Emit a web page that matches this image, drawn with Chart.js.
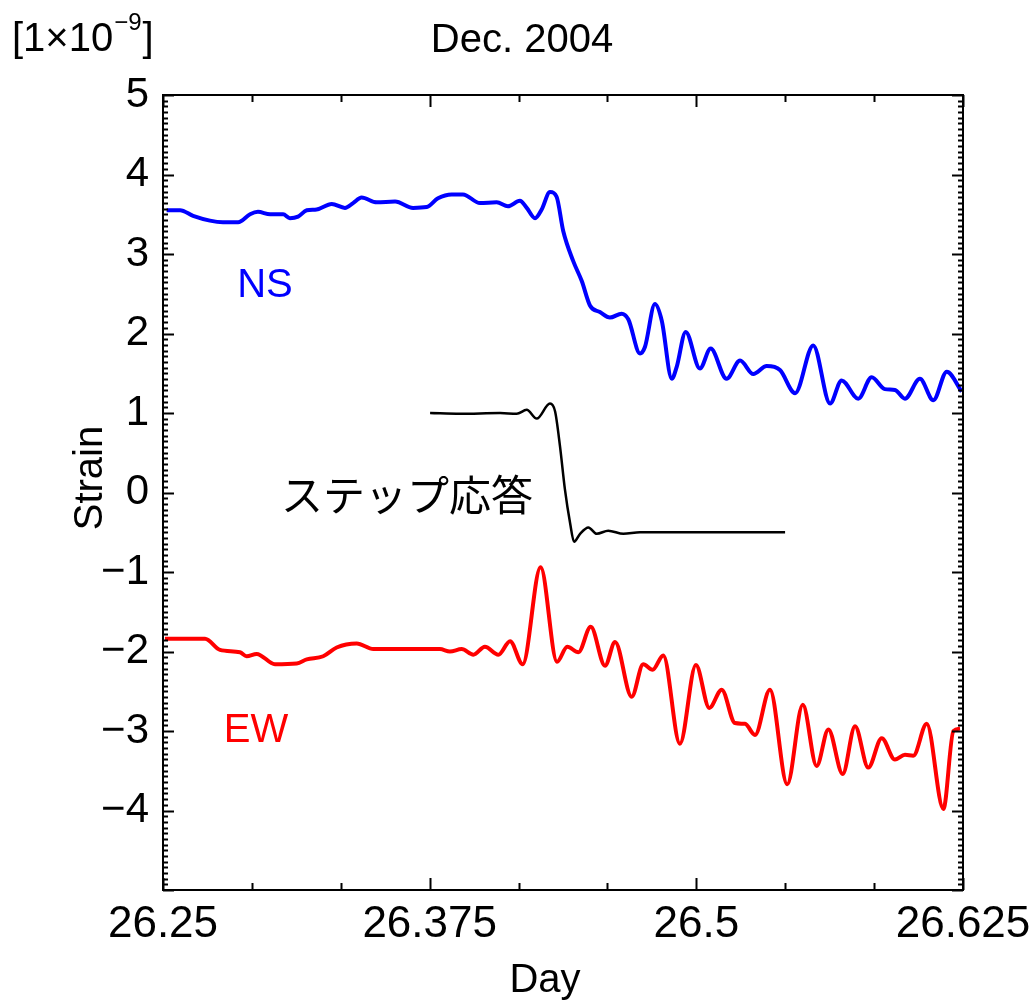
<!DOCTYPE html>
<html>
<head>
<meta charset="utf-8">
<script src="https://cdn.jsdelivr.net/npm/chart.js@4/dist/chart.umd.min.js"></script>
<style>
  html, body { margin: 0; padding: 0; background: #fff; }
  canvas { display: block; }
</style>
</head>
<body>
<canvas id="strain" width="1033" height="1001"></canvas>
<script>
// NS component (blue)
const nsDays = [26.2517, 26.2580, 26.2641, 26.2720, 26.2781, 26.2852, 26.2908, 26.2945, 26.3002, 26.3063,
  26.3095, 26.3133, 26.3174, 26.3220, 26.3291, 26.3353, 26.3391, 26.3431, 26.3502, 26.3588,
  26.3672, 26.3736, 26.3789, 26.3853, 26.3906, 26.3986, 26.4064, 26.4117, 26.4173, 26.4205,
  26.4244, 26.4275, 26.4314, 26.4345, 26.4376, 26.4423, 26.4463, 26.4502, 26.4548, 26.4595,
  26.4650, 26.4681, 26.4736, 26.4759, 26.4806, 26.4838, 26.4885, 26.4908, 26.4950, 26.5017,
  26.5067, 26.5142, 26.5205, 26.5267, 26.5330, 26.5392, 26.5463, 26.5548, 26.5627, 26.5681,
  26.5759, 26.5822, 26.5884, 26.5931, 26.5978, 26.6048, 26.6111, 26.6174, 26.6244];
const nsVals = [3.55, 3.55, 3.48, 3.42, 3.40, 3.40, 3.50, 3.53, 3.50, 3.50,
  3.45, 3.47, 3.55, 3.56, 3.63, 3.58, 3.64, 3.71, 3.65, 3.66,
  3.58, 3.59, 3.70, 3.75, 3.75, 3.64, 3.65, 3.60, 3.67, 3.58,
  3.45, 3.56, 3.78, 3.72, 3.29, 2.91, 2.66, 2.35, 2.27, 2.20,
  2.25, 2.18, 1.75, 1.83, 2.37, 2.16, 1.43, 1.58, 2.02, 1.56,
  1.81, 1.43, 1.66, 1.49, 1.59, 1.54, 1.25, 1.85, 1.12, 1.41,
  1.18, 1.45, 1.30, 1.29, 1.18, 1.43, 1.16, 1.52, 1.27];

// step response (black)
const stepDays = [26.3752, 26.3892, 26.4080, 26.4158, 26.4205, 26.4252, 26.4314, 26.4338, 26.4361, 26.4384,
  26.4408, 26.4427, 26.4455, 26.4494, 26.4533, 26.4587, 26.4658, 26.4736, 26.5416];
const stepVals = [1.00, 0.99, 1.00, 0.99, 1.04, 0.93, 1.12, 1.02, 0.58, 0.04,
  -0.38, -0.62, -0.52, -0.44, -0.52, -0.48, -0.52, -0.50, -0.50];

// EW component (red)
const ewDays = [26.2509, 26.2697, 26.2767, 26.2861, 26.2892, 26.2939, 26.3025, 26.3127, 26.3174, 26.3251,
  26.3314, 26.3408, 26.3486, 26.3798, 26.3845, 26.3900, 26.3955, 26.4009, 26.4072, 26.4127,
  26.4186, 26.4270, 26.4347, 26.4395, 26.4447, 26.4505, 26.4572, 26.4619, 26.4697, 26.4751,
  26.4795, 26.4845, 26.4923, 26.4998, 26.5061, 26.5119, 26.5181, 26.5228, 26.5275, 26.5345,
  26.5426, 26.5499, 26.5564, 26.5619, 26.5686, 26.5744, 26.5806, 26.5869, 26.5931, 26.5978,
  26.6017, 26.6080, 26.6158, 26.6205, 26.6236];
const ewVals = [-1.84, -1.84, -1.98, -2.01, -2.06, -2.03, -2.16, -2.15, -2.10, -2.06,
  -1.95, -1.90, -1.97, -1.97, -2.00, -1.97, -2.04, -1.94, -2.04, -1.87,
  -2.16, -0.94, -2.13, -1.94, -2.01, -1.69, -2.18, -1.88, -2.57, -2.16,
  -2.23, -2.05, -3.16, -2.17, -2.71, -2.48, -2.90, -2.91, -3.05, -2.48,
  -3.67, -2.67, -3.44, -2.98, -3.54, -2.94, -3.46, -3.09, -3.36, -3.30,
  -3.31, -2.91, -3.98, -3.00, -2.97];

// axes
const xTickVals = [26.25, 26.375, 26.5, 26.625];
const xMinorStep = 1 / 24;   // one hour
const yTickVals = [5, 4, 3, 2, 1, 0, -1, -2, -3, -4];
const yMinorPerUnit = 14;

// in-plot labels
const noteTexts = ['NS', 'EW', 'ステップ応答'];
const noteDays = [26.2978, 26.2936, 26.3644];
const noteVals = [2.6, -3.0, -0.03];
const noteColors = ['#0000ff', '#ff0000', '#000000'];

const pts = (xs, ys) => xs.map((x, i) => ({ x: x, y: ys[i] }));
const FONT = "'Liberation Sans', Arial, sans-serif";

// frame, inward ticks and texts
const framePlugin = {
  id: 'frame',
  afterDatasetsDraw(chart) {
    const { ctx, chartArea: a, scales: { x, y } } = chart;
    ctx.save();
    ctx.strokeStyle = '#000';
    ctx.lineWidth = 2;
    ctx.strokeRect(a.left, a.top, a.right - a.left, a.bottom - a.top);

    ctx.beginPath();
    for (let k = 0; k <= 9; k++) {
      const v = x.min + k * xMinorStep;
      const px = Math.round(x.getPixelForValue(v)) + 0.5;
      const big = xTickVals.some(t => Math.abs(t - v) < 1e-6);
      const len = big ? 12 : 7;
      ctx.moveTo(px, a.bottom); ctx.lineTo(px, a.bottom - len);
      ctx.moveTo(px, a.top); ctx.lineTo(px, a.top + len);
    }
    for (let k = y.min * yMinorPerUnit; k <= y.max * yMinorPerUnit; k++) {
      const v = k / yMinorPerUnit;
      const py = Math.round(y.getPixelForValue(v)) + 0.5;
      const len = (k % yMinorPerUnit === 0) ? 11 : 5;
      ctx.moveTo(a.left, py); ctx.lineTo(a.left + len, py);
      ctx.moveTo(a.right, py); ctx.lineTo(a.right - len, py);
    }
    ctx.lineWidth = 2;
    ctx.stroke();
    ctx.restore();
  },
  afterDraw(chart) {
    const { ctx, scales: { x, y } } = chart;
    ctx.save();
    ctx.fillStyle = '#000';
    ctx.textBaseline = 'alphabetic';

    // unit
    ctx.textAlign = 'left';
    ctx.font = '40px ' + FONT;
    ctx.fillText('[1×10', 12, 51);
    let w = ctx.measureText('[1×10').width;
    ctx.font = '24px ' + FONT;
    ctx.fillText('\u22129', 12 + w + 1, 30);
    const w2 = ctx.measureText('\u22129').width;
    ctx.font = '40px ' + FONT;
    ctx.fillText(']', 12 + w + w2 + 2, 51);

    // title
    ctx.textAlign = 'center';
    ctx.font = '40px ' + FONT;
    ctx.fillText('Dec. 2004', 522, 52);

    // axis titles
    ctx.fillText('Day', 545, 992);
    ctx.save();
    ctx.translate(102, 478);
    ctx.rotate(-Math.PI / 2);
    ctx.fillText('Strain', 0, 0);
    ctx.restore();

    // notes
    ctx.textBaseline = 'middle';
    noteTexts.forEach((t, i) => {
      ctx.fillStyle = noteColors[i];
      ctx.font = (i === 2 ? "42px 'Noto Sans CJK JP', sans-serif" : '40px ' + FONT);
      ctx.fillText(t, x.getPixelForValue(noteDays[i]), y.getPixelForValue(noteVals[i]));
    });
    ctx.restore();
  }
};

new Chart(document.getElementById('strain'), {
  type: 'line',
  data: {
    datasets: [
      { label: 'NS', data: pts(nsDays, nsVals), borderColor: '#0000ff', borderWidth: 4,
        pointRadius: 0, cubicInterpolationMode: 'monotone' },
      { label: 'Step', data: pts(stepDays, stepVals), borderColor: '#000000', borderWidth: 2.5,
        pointRadius: 0, cubicInterpolationMode: 'monotone' },
      { label: 'EW', data: pts(ewDays, ewVals), borderColor: '#ff0000', borderWidth: 4,
        pointRadius: 0, cubicInterpolationMode: 'monotone' }
    ]
  },
  options: {
    responsive: false,
    animation: false,
    devicePixelRatio: 1,
    layout: { padding: { left: 0, right: 70, top: 95, bottom: 0 } },
    plugins: { legend: { display: false }, tooltip: { enabled: false } },
    scales: {
      x: {
        type: 'linear', min: 26.25, max: 26.625,
        grid: { display: false }, border: { display: false },
        afterBuildTicks: s => { s.ticks = xTickVals.map(v => ({ value: v })); },
        afterFit: s => { s.height = 111; s.paddingLeft = 0; s.paddingRight = 0; },
        ticks: { autoSkip: false, maxRotation: 0, padding: 0, color: '#000',
          font: { family: FONT, size: 44 }, callback: v => String(v) }
      },
      y: {
        min: -5, max: 5,
        grid: { display: false }, border: { display: false },
        afterBuildTicks: s => { s.ticks = yTickVals.map(v => ({ value: v })); },
        afterFit: s => { s.width = 163; s.paddingTop = 0; s.paddingBottom = 0; },
        ticks: { autoSkip: false, padding: 6, color: '#000',
          font: { family: FONT, size: 42 },
          callback: v => (v < 0 ? '\u2212' + Math.abs(v) : String(v)) }
      }
    }
  },
  plugins: [framePlugin]
});
</script>
</body>
</html>
